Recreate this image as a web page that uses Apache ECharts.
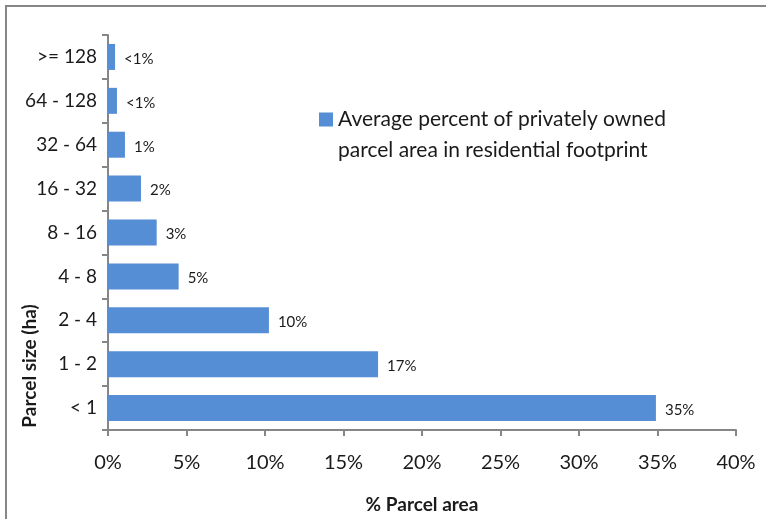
<!DOCTYPE html>
<html>
<head>
<meta charset="utf-8">
<script src="https://cdn.jsdelivr.net/npm/echarts@6/dist/echarts.min.js"></script>
<style>
html,body{margin:0;padding:0;background:#fff;}
#chart{width:766px;height:519px;}
</style>
</head>
<body>
<div id="chart"></div>
<script>
const categories = ['< 1', '1 - 2', '2 - 4', '4 - 8', '8 - 16', '16 - 32', '32 - 64', '64 - 128', '>= 128'];
const values = [34.9, 17.2, 10.25, 4.5, 3.1, 2.1, 1.08, 0.57, 0.45];
const valueLabels = ['35%', '17%', '10%', '5%', '3%', '2%', '1%', '<1%', '<1%'];
const xTicks = [0, 5, 10, 15, 20, 25, 30, 35, 40];
const seriesName = 'Average percent of privately owned parcel area in residential footprint';
const legendLines = ['Average percent of privately owned', 'parcel area in residential footprint'];
const yAxisTitle = 'Parcel size (ha)';
const xAxisTitle = '% Parcel area';

const FONT = 'Lato, "Open Sans", sans-serif';
const AXIS = '#868686';

const chart = echarts.init(document.getElementById('chart'), null, {renderer: 'canvas'});
chart.setOption({
  animation: false,
  backgroundColor: '#ffffff',
  textStyle: {fontFamily: FONT},
  grid: {left: 108, right: 30, top: 35, bottom: 83, containLabel: false},
  legend: {
    show: true,
    left: 319,
    top: 73,
    padding: 0,
    itemWidth: 14,
    itemHeight: 14,
    itemGap: 8,
    icon: 'rect',
    data: [seriesName],
    formatter: function () { return '\n' + legendLines.join('\n'); },
    textStyle: {fontFamily: FONT, fontSize: 21, color: '#1a1a1a', lineHeight: 31}
  },
  xAxis: {
    type: 'value',
    min: xTicks[0],
    max: xTicks[xTicks.length - 1],
    interval: xTicks[1] - xTicks[0],
    name: xAxisTitle,
    nameLocation: 'middle',
    nameGap: 65,
    nameTextStyle: {fontFamily: FONT, fontSize: 19, fontWeight: 'bold', color: '#1a1a1a'},
    axisLine: {show: true, lineStyle: {color: AXIS, width: 2}},
    axisTick: {show: true, length: 6, lineStyle: {color: AXIS, width: 2}},
    splitLine: {show: false},
    axisLabel: {formatter: '{value}%', fontFamily: FONT, fontSize: 20, color: '#1a1a1a', margin: 23}
  },
  yAxis: {
    type: 'category',
    data: categories,
    axisLine: {show: true, lineStyle: {color: AXIS, width: 2}},
    axisTick: {show: true, length: 6, alignWithLabel: false, lineStyle: {color: AXIS, width: 2}},
    axisLabel: {fontFamily: FONT, fontSize: 19, color: '#1a1a1a', margin: 11}
  },
  graphic: [
    {
      type: 'rect',
      shape: {x: 6, y: 6, width: 900, height: 900},
      style: {fill: null, stroke: AXIS, lineWidth: 2},
      silent: true
    },
    {
      type: 'text',
      x: 30,
      y: 366,
      rotation: Math.PI / 2,
      style: {
        text: yAxisTitle,
        font: 'bold 19px ' + FONT,
        fill: '#1a1a1a',
        align: 'center',
        verticalAlign: 'middle'
      }
    }
  ],
  series: [{
    name: seriesName,
    type: 'bar',
    data: values,
    barWidth: 26,
    itemStyle: {color: '#558ed5'},
    label: {
      show: true,
      position: 'right',
      distance: 9,
      offset: [0, 2],
      fontFamily: FONT,
      fontSize: 15,
      color: '#1a1a1a',
      formatter: function (p) { return valueLabels[p.dataIndex]; }
    }
  }]
});
</script>
</body>
</html>
